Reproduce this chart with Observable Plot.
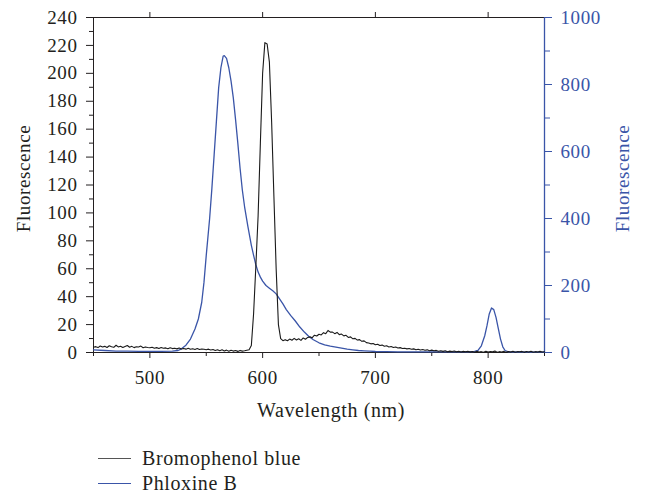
<!DOCTYPE html>
<html>
<head>
<meta charset="utf-8">
<script src="https://cdn.jsdelivr.net/npm/d3@7"></script>
<script src="https://cdn.jsdelivr.net/npm/@observablehq/plot@0.6"></script>
<style>
  html, body { margin: 0; padding: 0; background: #fff; }
  #chart { position: relative; width: 645px; height: 495px; font-family: "Liberation Serif", serif; color: #231f20; }
  #chart svg, #chart svg text { font-family: "Liberation Serif", serif !important; }
  .legend { position: absolute; left: 98px; top: 446px; font-size: 20px; letter-spacing: 0.6px; }
  .row { display: flex; align-items: center; height: 25px; }
  .sw { width: 33px; height: 0; border-top: 1.3px solid; margin-right: 11px; }
</style>
</head>
<body>
<div id="chart"></div>
<script>
// ---- data ----
const seriesNames = ["Bromophenol blue", "Phloxine B"];
const seriesColors = ["#1a1a1a", "#3a55a8"];

// Bromophenol blue: sampled every 2 nm from 450 to 850 (left axis)
const bpbWavelength = d3.range(450, 851, 2);
const bpbFluorescence = [
  3.8,4.2,3.5,4.6,3.9,4.4,3.6,4.8,4.1,3.7,5.2,4.0,4.5,3.6,4.3,5.0,3.8,4.4,3.5,4.1,3.9,4.6,3.4,4.0,3.6,3.4,
  3.8,3.1,3.5,2.9,3.6,3.0,3.3,2.7,3.4,2.8,3.1,2.6,3.2,2.5,2.9,2.4,3.0,2.3,2.7,2.2,2.8,2.1,2.5,2.3,2.0,
  2.4,1.8,2.2,1.5,2.0,1.3,1.9,1.1,1.7,0.9,1.6,1.0,1.4,0.8,1.5,1.0,1.2,1.6,2.0,
  5,28,62,98,150,200,222,221,208,165,112,60,20,10,8.5,
  9.2,8.4,9.6,8.8,10.1,9.0,9.8,8.7,10.4,9.5,10.8,
  11.2,10.6,12.4,11.8,13.1,12.6,14.2,13.5,15.8,14.6,
  14.6,13.5,14.4,12.8,13.2,11.9,12.3,10.8,11.2,9.8,10.1,8.9,9.2,8.0,8.3,7.1,6.8,6.2,6.5,5.6,
  5.9,5.0,5.3,4.5,4.8,4.0,4.3,3.6,3.9,3.2,3.5,2.9,3.1,2.6,2.9,2.3,2.6,2.0,2.3,1.8,
  2.1,1.6,1.9,1.3,1.7,1.2,1.5,0.9,1.3,0.8,1.2,0.6,1.0,0.7,1.1,0.5,0.9,0.4,0.8,0.5,
  0.9,0.3,0.7,0.2,0.8,0.4,0.6,0.1,0.9,0.3,0.7,0.5,1.0,0.2,0.6,0.4,0.8,0.1,0.7,0.3,0.9,0.2,0.6,0.5,0.8,0.1,0.7,0.4,0.9,0.2,0.6,0.3,0.8,0.4,0.5
];

// Phloxine B (right axis, 0-1000)
const phlWavelength = [450,460,470,480,490,500,510,520,525,528,532,536,540,543,546,548,550,553,555,557,559,561,563,565,566,568,570,572,574,576,578,580,582,584,587,590,592,594,596,598,600,603,606,609,612,615,618,621,625,629,633,637,641,645,650,655,660,665,670,675,680,685,690,695,700,710,720,740,760,780,788,791,794,797,799,801,803,805,807,809,811,813,815,818,825,850];
const phlFluorescence = [8,6,4,4,3.5,3.5,3.5,4,6,11,22,40,70,100,150,210,290,400,490,590,690,790,850,885,886,878,850,810,760,695,625,550,485,435,375,320,290,262,240,225,213,200,192,184,175,160,145,128,110,94,76,61,48,38,29,23,19,16,13,10,8,6,5,4,3,2.5,2,2,2,2,3,6,20,50,80,115,133,128,105,72,40,17,6,2,1.5,1];

// ticks
const xMajorTicks = [500, 600, 700, 800];
const xMinorTicks = [450, 550, 650, 750, 850];
const yLeftMajorTicks = [0,20,40,60,80,100,120,140,160,180,200,220,240];
const yLeftMinorTicks = [10,30,50,70,90,110,130,150,170,190,210,230];
const yRightMajorTicks = [0,200,400,600,800,1000];
const yRightMinorTicks = [100,300,500,700,900];

const leftMax = 240, rightMax = 1000;
const k = leftMax / rightMax;

const bpb = bpbWavelength.map((w, i) => ({w, v: bpbFluorescence[i]}));
const phl = phlWavelength.map((w, i) => ({w, v: phlFluorescence[i] * k}));

const blue = seriesColors[1];
const ink = "#231f20";
const fs = 19;

const plot = Plot.plot({
  width: 645,
  height: 430,
  marginLeft: 93,
  marginRight: 101,
  marginTop: 17,
  marginBottom: 78,
  x: {domain: [450, 850]},
  y: {domain: [0, leftMax]},
  style: {fontFamily: "'Liberation Serif', serif", fontSize: "19px", color: ink, background: "white", letterSpacing: "0.6px"},
  marks: [
    Plot.axisX({ticks: xMajorTicks, tickSize: 6, tickPadding: 12, label: null, fontSize: fs, stroke: ink}),
    Plot.axisX({ticks: xMinorTicks, tickSize: 4, tickFormat: () => "", label: null, stroke: ink}),
    Plot.axisX({anchor: "top", ticks: xMajorTicks, tickSize: 6, tickFormat: () => "", label: null, stroke: ink}),
    Plot.axisY({ticks: yLeftMajorTicks, tickSize: 7, tickPadding: 9, label: null, fontSize: fs, stroke: ink}),
    Plot.axisY({ticks: yLeftMinorTicks, tickSize: 4, tickFormat: () => "", label: null, stroke: ink}),
    Plot.axisY({anchor: "right", ticks: yRightMajorTicks.map(v => v * k), tickSize: 7, tickPadding: 9,
      tickFormat: d => String(Math.round(d / k)), label: null, fontSize: fs, color: blue}),
    Plot.axisY({anchor: "right", ticks: yRightMinorTicks.map(v => v * k), tickSize: 5, tickFormat: () => "", label: null, color: blue}),
    Plot.ruleY([0], {stroke: ink}),
    Plot.ruleY([leftMax], {stroke: ink}),
    Plot.ruleX([450], {stroke: ink}),
    Plot.ruleX([850], {stroke: blue, strokeWidth: 1.3}),
    Plot.line(phl, {x: "w", y: "v", stroke: blue, strokeWidth: 1.3}),
    Plot.line(bpb, {x: "w", y: "v", stroke: seriesColors[0], strokeWidth: 1.1}),
    Plot.text(["Fluorescence"], {frameAnchor: "left", dx: -70, dy: -6.5, rotate: -90, textAnchor: "middle", lineAnchor: "middle", fontSize: fs, fill: ink}),
    Plot.text(["Fluorescence"], {frameAnchor: "right", dx: 78, dy: -6.5, rotate: -90, textAnchor: "middle", lineAnchor: "middle", fontSize: fs, fill: blue}),
    Plot.text(["Wavelength (nm)"], {frameAnchor: "bottom", dx: 12, dy: 58, textAnchor: "middle", lineAnchor: "middle", fontSize: 20, fill: ink, letterSpacing: "1px"})
  ]
});

const chart = document.getElementById("chart");
chart.appendChild(plot);
const legend = document.createElement("div");
legend.className = "legend";
seriesNames.forEach((name, i) => {
  const row = document.createElement("div");
  row.className = "row";
  const sw = document.createElement("span");
  sw.className = "sw";
  sw.style.borderColor = i === 0 ? "#555" : seriesColors[i];
  const t = document.createElement("span");
  t.textContent = name;
  row.appendChild(sw);
  row.appendChild(t);
  legend.appendChild(row);
});
chart.appendChild(legend);
</script>
</body>
</html>
